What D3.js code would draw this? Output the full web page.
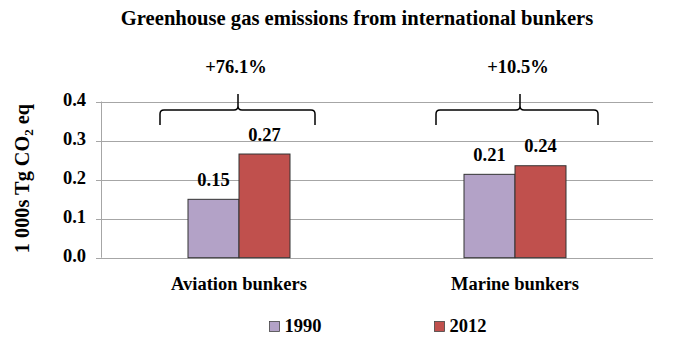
<!DOCTYPE html>
<html><head><meta charset="utf-8">
<script src="https://cdn.jsdelivr.net/npm/d3@7"></script>
<style>body{margin:0;background:#fff}</style>
</head><body><svg id="c" width="688" height="346" font-family="'Liberation Serif', 'Times New Roman', serif" font-weight="bold"></svg>
<script>
const categories = ["Aviation bunkers", "Marine bunkers"];
const seriesNames = ["1990", "2012"];
const values1990 = [0.1495, 0.2135];
const values2012 = [0.2655, 0.2355];
const valueLabels1990 = ["0.15", "0.21"];
const valueLabels2012 = ["0.27", "0.24"];
const changeLabels = ["+76.1%", "+10.5%"];
const yTicks = [0, 0.1, 0.2, 0.3, 0.4];
const colors = ["#B3A2C7", "#C0504D"];

const svg = d3.select("#c");
const m = {l: 101, r: 653, t: 101.5, b: 257.7};
const x = d3.scaleBand().domain(categories).range([m.l, m.r]);
const y = d3.scaleLinear().domain([0, 0.4]).range([m.b, m.t]);
const xs = d3.scaleBand().domain(seriesNames).range([0, 102]);
const FS = 18.5;

// title
svg.append("text").attr("x", 357).attr("y", 25).attr("text-anchor", "middle")
  .attr("font-size", 20.6).text("Greenhouse gas emissions from international bunkers");

// gridlines
svg.append("g").selectAll("line").data(yTicks).join("line")
  .attr("x1", m.l - 5).attr("x2", m.r).attr("y1", d => Math.round(y(d)) + 0.5).attr("y2", d => Math.round(y(d)) + 0.5)
  .attr("stroke", "#A6A6A6").attr("stroke-width", 1);
svg.append("line").attr("x1", m.l + 0.5).attr("x2", m.l + 0.5).attr("y1", y(0.4)).attr("y2", y(0))
  .attr("stroke", "#A6A6A6");

// y tick labels
svg.append("g").selectAll("text").data(yTicks).join("text")
  .attr("x", 86).attr("y", d => y(d) + 4.5).attr("text-anchor", "end")
  .attr("font-size", FS).text(d => d.toFixed(1));

// y axis title
svg.append("text").attr("transform", "translate(29,178.5) rotate(-90)").attr("text-anchor", "middle")
  .attr("font-size", 20.3)
  .call(t => { t.append("tspan").text("1 000s Tg CO");
               t.append("tspan").attr("dy", 4).attr("font-size", 13).text("2");
               t.append("tspan").attr("dy", -4).text(" eq"); });

// bars
const series = [values1990, values2012];
const lbls = [valueLabels1990, valueLabels2012];
seriesNames.forEach((s, si) => {
  const g = svg.append("g");
  g.selectAll("rect").data(categories).join("rect")
    .attr("x", d => x(d) + x.bandwidth() / 2 - 51 + xs(s))
    .attr("width", xs.bandwidth())
    .attr("y", (d, i) => y(series[si][i]))
    .attr("height", (d, i) => y(0) - y(series[si][i]))
    .attr("fill", colors[si]).attr("stroke", "#333").attr("stroke-width", 1);
  g.selectAll("text").data(categories).join("text")
    .attr("x", d => x(d) + x.bandwidth() / 2 - 51 + xs(s) + xs.bandwidth() / 2)
    .attr("y", (d, i) => y(series[si][i]) - 13.5)
    .attr("text-anchor", "middle").attr("font-size", FS)
    .text((d, i) => lbls[si][i]);
});

// category labels
svg.append("g").selectAll("text").data(categories).join("text")
  .attr("x", d => x(d) + x.bandwidth() / 2).attr("y", 290).attr("text-anchor", "middle")
  .attr("font-size", FS).text(d => d);

// braces
const bw = x.bandwidth();
categories.forEach((c, i) => {
  const cx = x(c) + bw / 2 + (i === 0 ? -1 : 5);
  const x0 = x(c) + bw / 2 - 79, x1 = x(c) + bw / 2 + (i === 0 ? 76 : 83);
  const yh = 110, yb = 125, yt = 94, r = 4;
  const p = `M${x0},${yb} L${x0},${yh + r} Q${x0},${yh} ${x0 + r},${yh} L${cx - r},${yh} Q${cx},${yh} ${cx},${yh - r} L${cx},${yt} M${cx},${yh - r} Q${cx},${yh} ${cx + r},${yh} L${x1 - r},${yh} Q${x1},${yh} ${x1},${yh + r} L${x1},${yb}`;
  svg.append("path").attr("d", p).attr("fill", "none").attr("stroke", "#000").attr("stroke-width", 1.5);
  svg.append("text").attr("x", cx - 2).attr("y", 73).attr("text-anchor", "middle")
    .attr("font-size", FS).text(changeLabels[i]);
});

// legend
const legX = [269.5, 434.5];
seriesNames.forEach((s, i) => {
  svg.append("rect").attr("x", legX[i]).attr("y", 321.5).attr("width", 10).attr("height", 10)
    .attr("fill", colors[i]).attr("stroke", "#444").attr("stroke-width", 0.8);
  svg.append("text").attr("x", legX[i] + 15).attr("y", 332).attr("font-size", FS).text(s);
});
</script></body></html>
